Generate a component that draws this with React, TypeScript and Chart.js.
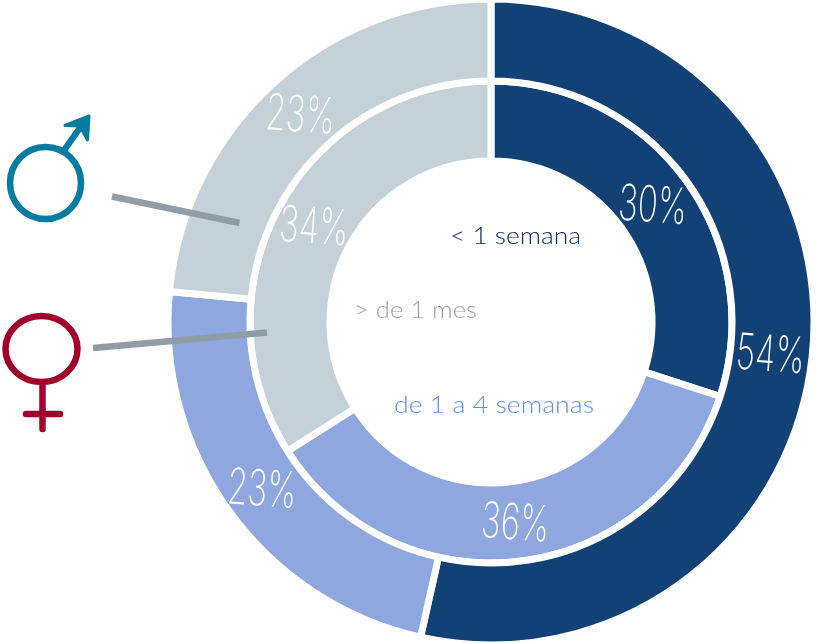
import React, { useEffect, useRef } from "react";
import { Chart, registerables } from "chart.js";

Chart.register(...registerables);

const categories = ["< 1 semana", "de 1 a 4 semanas", "> de 1 mes"];
const maleSectors = [53.5, 23, 23.5];
const femaleSectors = [30, 36, 34];
const maleLabels = ["54%", "23%", "23%"];
const femaleLabels = ["30%", "36%", "34%"];
const colors = ["#114175", "#8EA7DE", "#C5D1D9"];

const labelPlugin = {
  id: "drawn",
  afterDraw(chart: any) {
    const ctx = chart.ctx as CanvasRenderingContext2D;
    ctx.save();
    // percent labels, from the arcs' own centres
    const sets = [maleLabels, femaleLabels];
    ctx.fillStyle = "#ffffff";
    ctx.textAlign = "center";
    ctx.textBaseline = "middle";
    sets.forEach((labels, d) => {
      const arcs = chart.getDatasetMeta(d).data;
      labels.forEach((txt, i) => {
        const p = arcs[i].tooltipPosition();
        ctx.save();
        ctx.translate(p.x - 1, p.y + 3);
        ctx.rotate((4 * Math.PI) / 180);
        ctx.scale(0.66, 1);
        ctx.font = "200 50px Inter, Lato, sans-serif";
        ctx.fillText(txt, 0, 0);
        ctx.restore();
      });
    });

    // legend text in the hole
    ctx.textAlign = "left";
    ctx.font = "300 24px Lato, 'Open Sans', sans-serif";
    const text = (s: string, x: number, y: number, w: number, c: string) => {
      ctx.save();
      ctx.fillStyle = c;
      const m = ctx.measureText(s).width;
      ctx.translate(x, y);
      ctx.scale(w / m, 1);
      ctx.fillText(s, 0, 0);
      ctx.restore();
    };
    text(categories[0], 450, 236, 131, "#0F2A66");
    text(categories[2], 354, 310, 123, "#A0A0A0");
    text(categories[1], 394, 405, 200, "#5C90F0");

    // leader lines
    ctx.strokeStyle = "#8F9EA6";
    ctx.lineWidth = 6.5;
    ctx.lineCap = "butt";
    ctx.beginPath();
    ctx.moveTo(112, 196.5);
    ctx.lineTo(239.5, 223);
    ctx.moveTo(93, 348);
    ctx.lineTo(267, 332.5);
    ctx.stroke();

    // male symbol
    ctx.strokeStyle = "#047BA0";
    ctx.fillStyle = "#047BA0";
    ctx.lineWidth = 6.5;
    ctx.lineCap = "round";
    ctx.lineJoin = "round";
    ctx.beginPath();
    ctx.ellipse(45.5, 183, 35.5, 36, 0, 0, Math.PI * 2);
    ctx.stroke();
    ctx.beginPath();
    ctx.moveTo(65, 149);
    ctx.lineTo(84, 122);
    ctx.stroke();
    ctx.lineWidth = 3;
    ctx.beginPath();
    ctx.moveTo(65, 125.5);
    ctx.lineTo(89, 116);
    ctx.lineTo(87.5, 140);
    ctx.lineTo(80, 126);
    ctx.closePath();
    ctx.fill();
    ctx.stroke();

    // female symbol
    ctx.strokeStyle = "#A0002B";
    ctx.lineWidth = 6.5;
    ctx.beginPath();
    ctx.ellipse(41.5, 349, 36, 33, 0, 0, Math.PI * 2);
    ctx.stroke();
    ctx.beginPath();
    ctx.moveTo(42.5, 384);
    ctx.lineTo(42.5, 429);
    ctx.moveTo(26, 414);
    ctx.lineTo(60, 414);
    ctx.stroke();
    ctx.restore();
  },
};

export default function App() {
  const ref = useRef<HTMLCanvasElement>(null);
  useEffect(() => {
    document.body.style.margin = "0";
    const chart = new Chart(ref.current as HTMLCanvasElement, {
      type: "doughnut",
      data: {
        labels: categories,
        datasets: [
          { data: maleSectors, backgroundColor: colors, borderColor: "#ffffff", borderWidth: 7, weight: 82 },
          { data: femaleSectors, backgroundColor: colors, borderColor: "#ffffff", borderWidth: 7, weight: 80 },
        ],
      },
      options: {
        responsive: false,
        animation: false,
        radius: 323,
        cutout: "49.85%",
        layout: { padding: { left: 166, top: 1 } },
        plugins: { legend: { display: false }, tooltip: { enabled: false } },
      } as any,
      plugins: [labelPlugin],
    });
    return () => chart.destroy();
  }, []);
  return <canvas ref={ref} width={816} height={643} style={{ display: "block" }} />;
}
